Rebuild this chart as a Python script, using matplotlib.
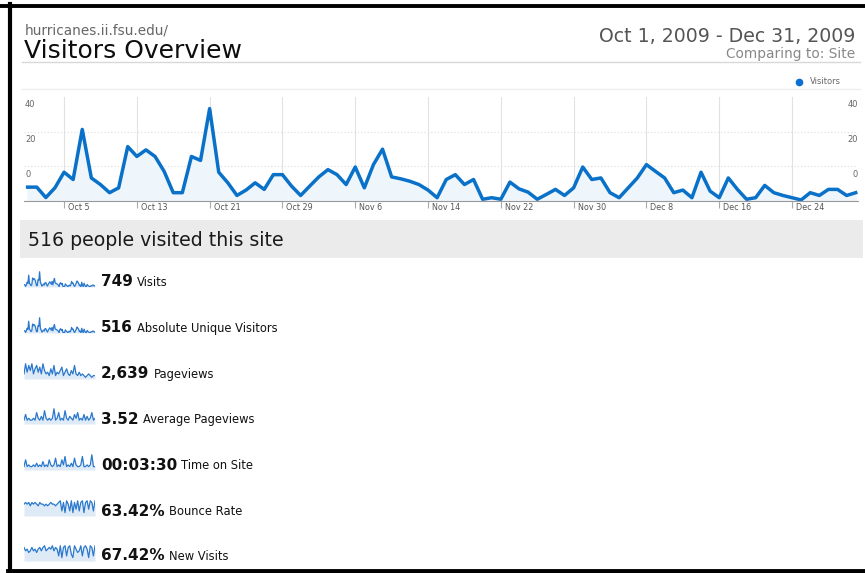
import numpy as np
import matplotlib
matplotlib.use("Agg")
import matplotlib.pyplot as plt
from matplotlib.patches import Rectangle
from matplotlib.lines import Line2D
from matplotlib.transforms import offset_copy, blended_transform_factory

plt.rcParams["font.family"] = ["DejaVu Sans"]

# daily visitors, Oct 1 .. Dec 31 2009 (values as read on the chart's own scale)
visitors = [-12, -12, -18, -12.4, -3.4, -7.6, 21.3, -6.7, -10.5, -15.2,
            -12.4, 11.4, 5.7, 9.5, 5.7, -2.9, -15.2, -15.2, 5.7, 3.4,
            33.3, -3.4, -9.5, -16.8, -13.7, -9.5, -13.3, -4.8, -4.8, -11.4,
            -16.8, -11.4, -6.1, -1.9, -4.8, -10.5, -0.4, -12.4, 1.0, 9.9,
            -6.1, -7.2, -8.6, -10.5, -13.7, -18.1, -7.6, -4.8, -10.5, -7.6,
            -19, -18.1, -19, -9.1, -13, -14.9, -19, -16.2, -13.3, -16.8,
            -12.4, -0.4, -7.6, -6.7, -15.2, -18.1, -12.4, -6.7, 1.0, -2.9,
            -6.7, -15.2, -13.7, -18.1, -3.4, -14.3, -18.1, -6.7, -13.3, -19,
            -18.1, -11, -15.2, -16.8, -18.1, -19.4, -15.2, -16.8, -13.3, -13.3,
            -16.8, -15.2]
tick_days = [4, 12, 20, 28, 36, 44, 52, 60, 68, 76, 84]
tick_labels = ["Oct 5", "Oct 13", "Oct 21", "Oct 29", "Nov 6", "Nov 14",
               "Nov 22", "Nov 30", "Dec 8", "Dec 16", "Dec 24"]
y_labels = [40, 20, 0]

# sparkline series (every other day)
pageviews = [3, 9, 4, 8, 5, 9, 3, 6, 8, 4, 7, 3, 9, 5, 3, 4, 2, 6, 3, 8, 2, 4, 3,
             5, 7, 2, 4, 6, 3, 2, 5, 3, 8, 3, 2, 4, 2, 3, 2, 1, 2, 3, 2, 1, 2, 2]
avg_pageviews = [2, 5, 2, 3, 2, 2, 3, 2, 6, 3, 2, 4, 2, 7, 3, 2, 3, 2, 3, 8, 2, 3, 6,
                 2, 3, 2, 7, 3, 2, 4, 3, 2, 5, 3, 6, 2, 3, 2, 5, 2, 4, 2, 3, 6, 2, 3]
time_on_site = [2, 6, 2, 3, 2, 2, 3, 2, 4, 2, 3, 2, 5, 2, 3, 2, 6, 3, 2, 3, 7, 2, 3,
                2, 6, 3, 8, 2, 3, 2, 4, 2, 7, 3, 2, 2, 3, 8, 2, 2, 3, 2, 3, 9, 2, 2]
bounce_rate = [7, 8, 7, 8, 6, 8, 7, 8, 7, 6, 8, 7, 7, 6, 7, 6, 7, 8, 7, 7, 6, 7, 8,
               9, 3, 8, 2, 9, 7, 3, 9, 2, 8, 4, 9, 3, 8, 9, 2, 8, 9, 4, 9, 8, 3, 9]
new_visits = [8, 6, 7, 5, 6, 8, 6, 7, 5, 7, 8, 6, 8, 9, 6, 7, 8, 7, 9, 6, 8, 7, 3,
              9, 2, 8, 9, 3, 8, 9, 4, 2, 9, 7, 5, 6, 9, 3, 8, 9, 7, 2, 9, 8, 3, 9]

metric_values = ["749", "516", "2,639", "3.52", "00:03:30", "63.42%", "67.42%"]
metric_names = ["Visits", "Absolute Unique Visitors", "Pageviews", "Average Pageviews",
                "Time on Site", "Bounce Rate", "New Visits"]

W, H = 865, 573


def fx(x):
    return x / W


def fy(y):
    return 1 - y / H


fig = plt.figure(figsize=(W / 100, H / 100), dpi=100)
fig.patch.set_facecolor("white")

# frame
fig.add_artist(Line2D([fx(0), fx(W)], [fy(5.5), fy(5.5)], color="black", lw=2.8))
fig.add_artist(Line2D([fx(10), fx(10)], [fy(4), fy(571)], color="black", lw=3))
fig.add_artist(Line2D([fx(8), fx(W)], [fy(570.5), fy(570.5)], color="black", lw=3.5))

# header
fig.text(fx(25), fy(34), "hurricanes.ii.fsu.edu/", fontsize=9.8, color="#666666", va="baseline")
fig.text(fx(24), fy(58), "Visitors Overview", fontsize=18, color="#0d0d0d", va="baseline")
fig.text(fx(855), fy(42), "Oct 1, 2009 - Dec 31, 2009", fontsize=13.6, color="#555555",
         ha="right", va="baseline")
fig.text(fx(855), fy(58), "Comparing to: Site", fontsize=9.9, color="#888888",
         ha="right", va="baseline")
fig.add_artist(Line2D([fx(22), fx(860)], [fy(62), fy(62)], color="#d8d8d8", lw=1))
fig.add_artist(Line2D([fx(22), fx(860)], [fy(89), fy(89)], color="#eeeeee", lw=1))
fig.add_artist(Line2D([fx(799)], [fy(82)], marker="o", ms=4.5, color="#0a6fd0", lw=0))
fig.text(fx(810), fy(82), "Visitors", fontsize=6, color="#666666", va="center")

# main chart
days = np.arange(len(visitors))
ax = fig.add_axes([fx(24), fy(201), (858 - 24) / W, (201 - 97) / H])
ax.set_xlim(-0.4, 91.25)
ax.set_ylim(-20, 40)
for s in ["top", "left", "right"]:
    ax.spines[s].set_visible(False)
ax.spines["bottom"].set_color("#999999")
ax.set_xticks(tick_days)
ax.set_xticklabels([])
ax.set_yticks([])
ax.tick_params(axis="x", length=5, color="#aaaaaa", width=0.8)
for d in tick_days:
    ax.axvline(d, color="#e2e2e2", lw=0.8, zorder=0)
for v in [0, 20]:
    ax.axhline(v, color="#dddddd", lw=0.8, ls=(0, (1, 2)), zorder=0)

ax.fill_between(days, visitors, -20, color="#eef5fb", zorder=1)
ax.plot(days, visitors, color="#0a71c9", lw=2.5, zorder=2)

lab_tr = offset_copy(ax.transData, fig=fig, x=4, y=-7, units="dots")
for d, t in zip(tick_days, tick_labels):
    ax.text(d, -20, t, transform=lab_tr, fontsize=5.8, color="#555555",
            ha="left", va="center", clip_on=False)

bt = blended_transform_factory(ax.transAxes, ax.transData)
left_tr = offset_copy(bt, fig=fig, x=1, y=-8, units="dots")
right_tr = offset_copy(bt, fig=fig, x=0, y=-8, units="dots")
for v in y_labels:
    ax.text(0, v, str(v), transform=left_tr, fontsize=6, color="#666666",
            ha="left", va="center", clip_on=False)
    ax.text(1, v, str(v), transform=right_tr, fontsize=6, color="#666666",
            ha="right", va="center", clip_on=False)

# summary band
fig.add_artist(Rectangle((fx(20), fy(258)), (863 - 20) / W, (258 - 220) / H,
                         transform=fig.transFigure, color="#ebebeb", lw=0))
fig.text(fx(28), fy(246.5), "516 people visited this site", fontsize=13.6,
         color="#1a1a1a", va="baseline")

# metric rows with sparklines
visits_spark = [v + 20 for v in visitors]
sparks = [visits_spark, visits_spark, pageviews, avg_pageviews, time_on_site,
          bounce_rate, new_visits]
row_y = [281, 327, 373, 418, 464, 510, 555]

for cy, series, val, name in zip(row_y, sparks, metric_values, metric_names):
    sax = fig.add_axes([fx(24), fy(cy + 6), 71 / W, 16 / H])
    xs = np.arange(len(series))
    sax.fill_between(xs, series, 0, color="#dfeaf7", lw=0)
    sax.plot(xs, series, color="#2a78cc", lw=0.9)
    sax.set_xlim(0, len(series) - 1)
    sax.set_ylim(0, max(series) * 1.05)
    sax.axis("off")
    vt = fig.text(fx(101), fy(cy + 5.5), val, fontsize=11, weight="bold",
                  color="#111111", va="baseline")
    plt.annotate(name, xy=(1, 0), xycoords=vt, xytext=(3, 0.5),
                 textcoords="offset points", fontsize=8.3, color="#111111",
                 va="bottom", annotation_clip=False)

fig.savefig("out.png", dpi=100, facecolor="white")
